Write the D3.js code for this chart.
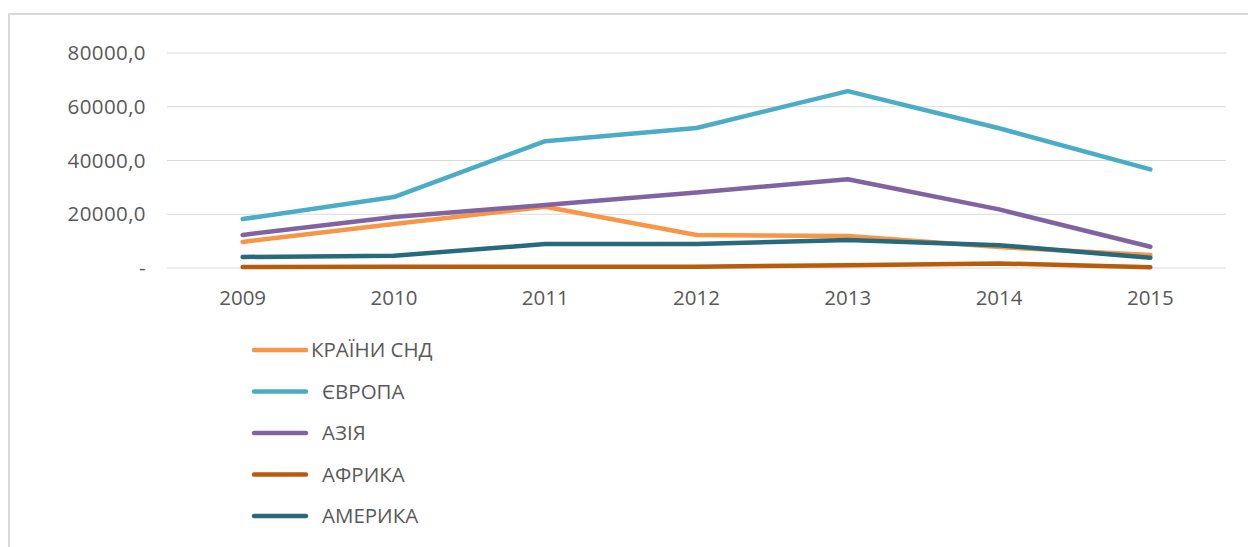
<!DOCTYPE html>
<html>
<head>
<meta charset="utf-8">
<script src="https://cdn.jsdelivr.net/npm/d3@7"></script>
<style>
  html, body { margin: 0; padding: 0; background: #fff; }
  svg { display: block; }
  text { font-family: "Open Sans", "Liberation Sans", sans-serif; fill: #595959; }
</style>
</head>
<body>
<svg id="chart" width="1248" height="547"></svg>
<script>
const years = ["2009", "2010", "2011", "2012", "2013", "2014", "2015"];
const seriesNames = ["КРАЇНИ СНД", "ЄВРОПА", "АЗІЯ", "АФРИКА", "АМЕРИКА"];
const cisValues     = [9700, 16400, 22800, 12300, 11900, 7800, 4800];
const europeValues  = [18200, 26400, 47200, 52100, 65800, 52000, 36700];
const asiaValues    = [12300, 19000, 23400, 28100, 33000, 21800, 7900];
const africaValues  = [400, 500, 500, 500, 1000, 1700, 300];
const americaValues = [4100, 4600, 8900, 8900, 10400, 8500, 3800];
const yTicks = [0, 20000, 40000, 60000, 80000];
const colors = ["#F79646", "#4BACC6", "#8064A2", "#B85B0C", "#276A7C"];

const series = [cisValues, europeValues, asiaValues, africaValues, americaValues]
  .map((v, i) => ({ name: seriesNames[i], values: v, color: colors[i] }));

const svg = d3.select("#chart");
const FONT = '"Open Sans", "Liberation Sans", sans-serif';
const FS = 20.5;

// outer border
svg.append("rect").attr("x", 9).attr("y", 14).attr("width", 1250).attr("height", 560)
  .attr("fill", "none").attr("stroke", "#d9d9d9").attr("stroke-width", 2);

const mLeft = 167, mRight = 1226, mTop = 53, mBottom = 268;
const x = d3.scaleBand().domain(years).range([mLeft, mRight]);
const y = d3.scaleLinear().domain([0, 80000]).range([mBottom, mTop]);

// gridlines
svg.append("g").selectAll("line").data(yTicks).join("line")
  .attr("x1", mLeft).attr("x2", mRight)
  .attr("y1", d => y(d)).attr("y2", d => y(d))
  .attr("stroke", "#d9d9d9").attr("stroke-width", 1);

// y axis labels
const yAxis = d3.axisLeft(y).tickValues(yTicks).tickSize(0).tickPadding(0)
  .tickFormat(d => d === 0 ? "-" : d3.format("d")(d) + ",0");
svg.append("g").attr("transform", `translate(${mLeft - 21},0)`).call(yAxis)
  .call(g => g.select(".domain").remove())
  .call(g => g.selectAll("text").attr("font-size", FS).attr("fill", "#595959")
    .attr("letter-spacing", 0.4).style("font-family", FONT));

// x axis labels
const xAxis = d3.axisBottom(x).tickSize(0).tickPadding(0);
svg.append("g").attr("transform", `translate(0,${mBottom + 22})`).call(xAxis)
  .call(g => g.select(".domain").remove())
  .call(g => g.selectAll("text").attr("font-size", FS).attr("fill", "#595959")
    .style("font-family", FONT));

// lines
const line = d3.line()
  .x((d, i) => x(years[i]) + x.bandwidth() / 2)
  .y(d => y(d));

svg.append("g").selectAll("path").data(series).join("path")
  .attr("d", s => line(s.values))
  .attr("fill", "none")
  .attr("stroke", s => s.color)
  .attr("stroke-width", 4.5)
  .attr("stroke-linejoin", "round")
  .attr("stroke-linecap", "round");

// legend
const legendY = d3.scalePoint().domain(seriesNames).range([350, 516]);
const lg = svg.append("g").selectAll("g").data(series).join("g")
  .attr("transform", s => `translate(0,${legendY(s.name)})`);
lg.append("line").attr("x1", 254).attr("x2", 306).attr("y1", 0).attr("y2", 0)
  .attr("stroke", s => s.color).attr("stroke-width", 4.5).attr("stroke-linecap", "round");
lg.append("text").attr("x", (s, i) => i === 0 ? 311 : 322).attr("y", 0).attr("dy", "0.35em")
  .attr("font-size", FS).style("font-family", FONT).text(s => s.name);
</script>
</body>
</html>
